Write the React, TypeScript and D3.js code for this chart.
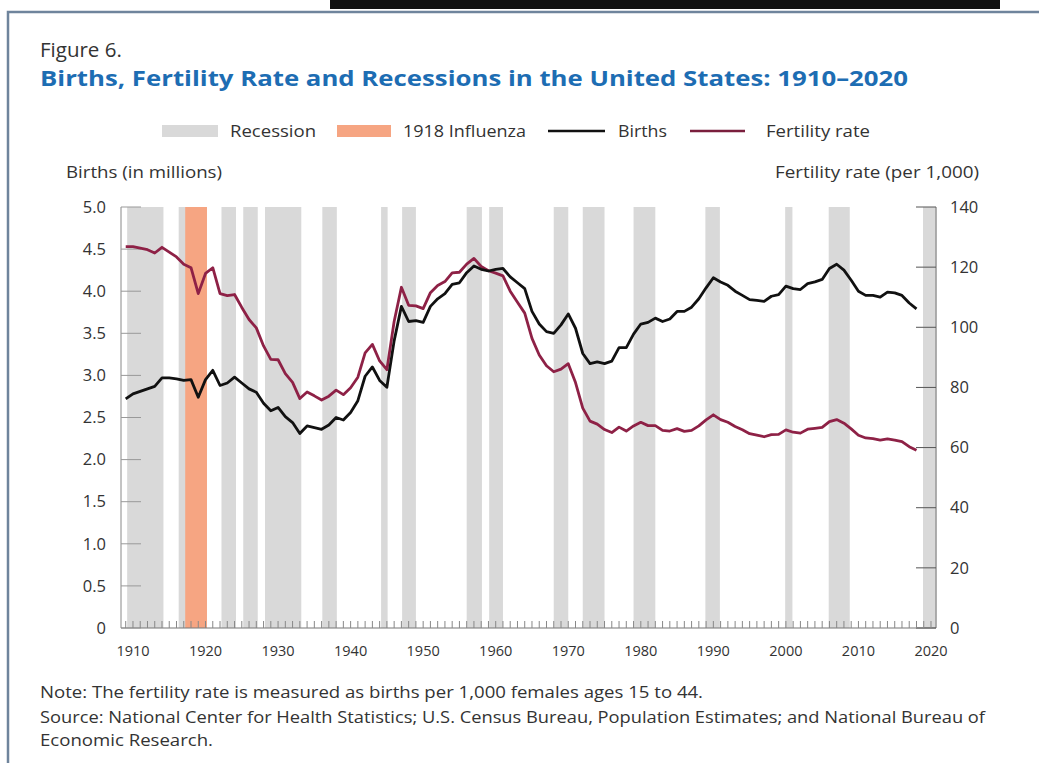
import * as d3 from "d3";

// Data (NCHS births and general fertility rate)
const startYear = 1909;

// Births, millions, 1909-2018
const births = [
  2.72, 2.78, 2.81, 2.84, 2.87, 2.97, 2.97, 2.96, 2.94, 2.95,
  2.74, 2.95, 3.06, 2.88, 2.91, 2.98, 2.91, 2.84, 2.80, 2.67,
  2.58, 2.62, 2.51, 2.44, 2.31, 2.40, 2.38, 2.36, 2.41, 2.50,
  2.47, 2.56, 2.70, 2.99, 3.10, 2.94, 2.86, 3.41, 3.82, 3.64,
  3.65, 3.63, 3.82, 3.91, 3.97, 4.08, 4.10, 4.22, 4.30, 4.26,
  4.24, 4.26, 4.27, 4.17, 4.10, 4.03, 3.76, 3.61, 3.52, 3.50,
  3.60, 3.73, 3.56, 3.26, 3.14, 3.16, 3.14, 3.17, 3.33, 3.33,
  3.49, 3.61, 3.63, 3.68, 3.64, 3.67, 3.76, 3.76, 3.81, 3.91,
  4.04, 4.16, 4.11, 4.07, 4.00, 3.95, 3.90, 3.89, 3.88, 3.94,
  3.96, 4.06, 4.03, 4.02, 4.09, 4.11, 4.14, 4.27, 4.32, 4.25,
  4.13, 4.00, 3.95, 3.95, 3.93, 3.99, 3.98, 3.95, 3.86, 3.79,
];

// Fertility rate per 1,000 women 15-44, 1909-2018
const fertility = [
  126.8, 126.8, 126.3, 125.8, 124.7, 126.6, 125.0, 123.4, 121.0, 119.8,
  111.2, 117.9, 119.8, 111.2, 110.5, 110.9, 106.6, 102.6, 99.8, 93.8,
  89.3, 89.2, 84.6, 81.7, 76.3, 78.5, 77.2, 75.8, 77.1, 79.1,
  77.6, 79.9, 83.4, 91.5, 94.3, 88.8, 85.9, 101.9, 113.3, 107.3,
  107.1, 106.2, 111.5, 113.9, 115.2, 118.1, 118.3, 121.0, 122.9, 120.2,
  118.8, 118.0, 117.1, 112.0, 108.3, 104.7, 96.3, 90.8, 87.2, 85.2,
  86.1, 87.9, 81.6, 73.1, 68.8, 67.8, 66.0, 65.0, 66.8, 65.5,
  67.2, 68.4, 67.3, 67.3, 65.7, 65.5, 66.3, 65.4, 65.7, 67.2,
  69.2, 70.9, 69.3, 68.4, 67.0, 65.9, 64.6, 64.1, 63.6, 64.3,
  64.4, 65.9, 65.1, 64.8, 66.1, 66.4, 66.7, 68.6, 69.3, 68.1,
  66.2, 64.1, 63.2, 63.0, 62.5, 62.9, 62.5, 62.0, 60.3, 59.1,
];

// Shaded periods as drawn [start, end]
const recessions = [
  [1909.2, 1914.2], [1916.3, 1920.2], [1922.2, 1924.2], [1925.2, 1927.2],
  [1928.2, 1933.2], [1936.1, 1938.1], [1944.2, 1945.1], [1947.1, 1949.0],
  [1956.0, 1958.1], [1959.1, 1961.0], [1968.0, 1970.0], [1972.0, 1975.0],
  [1979.0, 1982.0], [1988.9, 1990.9], [1999.9, 2000.9], [2005.9, 2008.8],
  [2018.9, 2020.6],
];
const influenza = [1917.2, 1920.2];

const xLabels = [1910, 1920, 1930, 1940, 1950, 1960, 1970, 1980, 1990, 2000, 2010, 2020];
const leftTicks = [0, 0.5, 1.0, 1.5, 2.0, 2.5, 3.0, 3.5, 4.0, 4.5, 5.0];
const rightTicks = [0, 20, 40, 60, 80, 100, 120, 140];

const legendItems = [
  { label: "Recession", kind: "box", color: "#d9d9d9" },
  { label: "1918 Influenza", kind: "box", color: "#f6a582" },
  { label: "Births", kind: "line", color: "#111111" },
  { label: "Fertility rate", kind: "line", color: "#7a1f3d" },
];

const font = "'Open Sans', 'Noto Sans', sans-serif";

function App() {
  const W = 1039, H = 763;
  const plot = { left: 121, right: 936, top: 207, bottom: 628 };

  const x = d3.scaleLinear().domain([1908.35, 2020.69]).range([plot.left, plot.right]);
  const yL = d3.scaleLinear().domain([0, 5]).range([plot.bottom, plot.top]);
  const yR = d3.scaleLinear().domain([0, 140]).range([plot.bottom, plot.top]);

  const birthLine = d3.line<number>()
    .x((d, i) => x(startYear + i))
    .y((d) => yL(d));
  const fertLine = d3.line<number>()
    .x((d, i) => x(startYear + i))
    .y((d) => yR(d));

  const yearTicks = d3.range(1909, 2021);

  // legend positions
  const legendX = [162, 337, 548, 690];
  const legendTextX = [230, 403, 618, 766];
  const legendW = [56, 54, 57, 55];
  const legendTextW = [86, 123, 49, 104];

  return (
    <div style={{ position: "absolute", left: 0, top: 0 }}>
      <svg width={W} height={H} style={{ display: "block", background: "#fff" }}>
        {/* cropped dark strip and frame */}
        <rect x={330} y={0} width={670} height={9} fill="#111" />
        <rect x={8} y={12} width={1100} height={800} fill="#fff" stroke="#6f849c" strokeWidth={2.5} />

        <text x={40} y={57} fontFamily={font} fontSize={20.5} fill="#333">Figure 6.</text>
        <text x={40} y={86} fontFamily={font} fontSize={22} fontWeight={700} fill="#1d6db3"
          textLength={868} lengthAdjust="spacingAndGlyphs">
          Births, Fertility Rate and Recessions in the United States: 1910–2020
        </text>

        {/* legend */}
        {legendItems.map((d, i) => (
          <g key={d.label}>
            {d.kind === "box" ? (
              <rect x={legendX[i]} y={125} width={legendW[i]} height={12} fill={d.color} />
            ) : (
              <line x1={legendX[i]} x2={legendX[i] + legendW[i]} y1={131} y2={131}
                stroke={d.color} strokeWidth={2.5} />
            )}
            <text x={legendTextX[i]} y={131} dy="0.35em" fontFamily={font} fontSize={17} fill="#333"
              textLength={legendTextW[i]} lengthAdjust="spacingAndGlyphs">
              {d.label}
            </text>
          </g>
        ))}

        <text x={66} y={172} dy="0.35em" fontFamily={font} fontSize={16.5} fill="#333"
          textLength={156} lengthAdjust="spacingAndGlyphs">Births (in millions)</text>
        <text x={979} y={172} dy="0.35em" textAnchor="end" fontFamily={font} fontSize={16.5} fill="#333"
          textLength={204} lengthAdjust="spacingAndGlyphs">
          Fertility rate (per 1,000)
        </text>

        {/* shaded periods */}
        {recessions.map((r, i) => (
          <rect key={i} x={x(r[0])} y={plot.top} width={x(r[1]) - x(r[0])}
            height={plot.bottom - plot.top} fill="#d9d9d9" />
        ))}
        <rect x={x(influenza[0])} y={plot.top} width={x(influenza[1]) - x(influenza[0])}
          height={plot.bottom - plot.top} fill="#f6a582" />

        {/* axes */}
        <line x1={plot.left} x2={plot.left} y1={plot.top} y2={plot.bottom} stroke="#888" strokeWidth={1} />
        <line x1={plot.right} x2={plot.right} y1={plot.top} y2={plot.bottom} stroke="#777" strokeWidth={1.2} />
        <line x1={plot.left} x2={plot.right} y1={plot.bottom} y2={plot.bottom} stroke="#777" strokeWidth={1.2} />

        {leftTicks.map((t) => (
          <g key={"l" + t}>
            <line x1={plot.left} x2={plot.left + 20} y1={yL(t)} y2={yL(t)} stroke="#999" strokeWidth={1} />
            <text x={106} y={yL(t)} dy="0.35em" textAnchor="end" fontFamily={font} fontSize={16.5} fill="#333">
              {t === 0 ? "0" : t.toFixed(1)}
            </text>
          </g>
        ))}
        {rightTicks.map((t) => (
          <g key={"r" + t}>
            <line x1={plot.right - 20} x2={plot.right} y1={yR(t)} y2={yR(t)} stroke="#555" strokeWidth={1} />
            <text x={950} y={yR(t)} dy="0.35em" fontFamily={font} fontSize={16.5} fill="#333">{t}</text>
          </g>
        ))}
        {yearTicks.map((t) => (
          <line key={"y" + t} x1={x(t)} x2={x(t)} y1={plot.bottom} y2={plot.bottom - 7}
            stroke="#888" strokeWidth={1} />
        ))}
        {xLabels.map((t) => (
          <text key={"x" + t} x={x(t)} y={651} dy="0.35em" textAnchor="middle"
            fontFamily={font} fontSize={14.5} fill="#333">{t}</text>
        ))}

        {/* series */}
        <path d={fertLine(fertility) ?? ""} fill="none" stroke="#8e2146" strokeWidth={2.8} strokeLinejoin="round" />
        <path d={birthLine(births) ?? ""} fill="none" stroke="#111" strokeWidth={2.8} strokeLinejoin="round" />

        {/* notes */}
        <text x={40} y={692} dy="0.35em" fontFamily={font} fontSize={16} fill="#333"
          textLength={663} lengthAdjust="spacingAndGlyphs">
          Note: The fertility rate is measured as births per 1,000 females ages 15 to 44.
        </text>
        <text x={40} y={717} dy="0.35em" fontFamily={font} fontSize={16} fill="#333"
          textLength={945} lengthAdjust="spacingAndGlyphs">
          Source: National Center for Health Statistics; U.S. Census Bureau, Population Estimates; and National Bureau of
        </text>
        <text x={40} y={740} dy="0.35em" fontFamily={font} fontSize={16} fill="#333"
          textLength={173} lengthAdjust="spacingAndGlyphs">
          Economic Research.
        </text>
      </svg>
    </div>
  );
}

export default App;
